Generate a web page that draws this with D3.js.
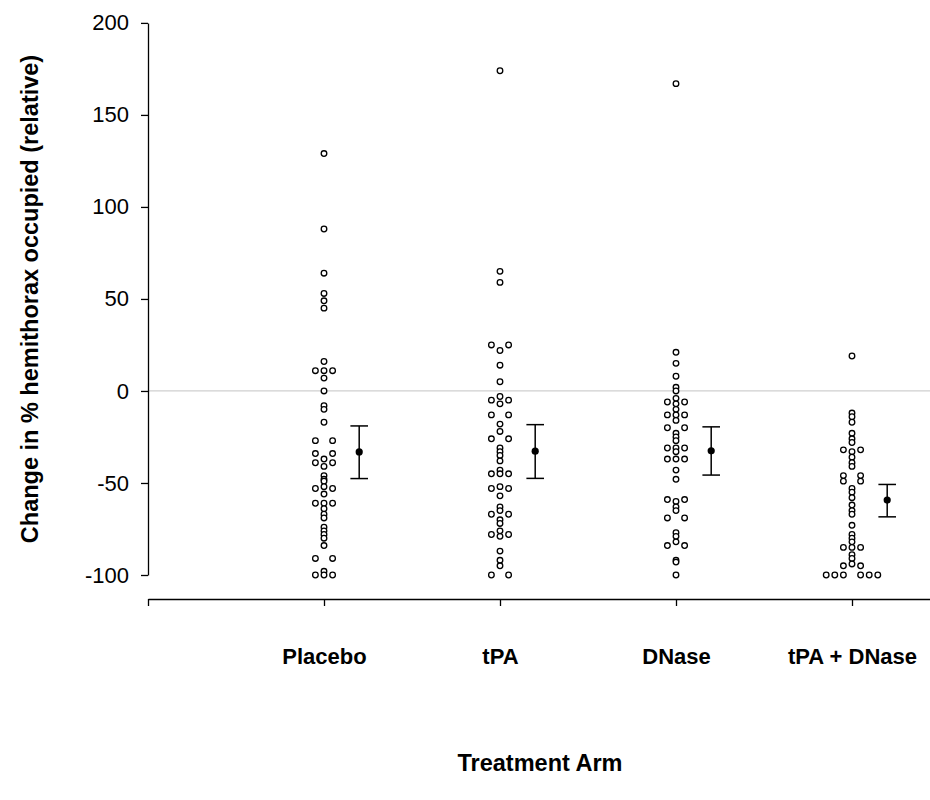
<!DOCTYPE html>
<html><head><meta charset="utf-8">
<script src="https://cdn.jsdelivr.net/npm/d3@7"></script>
<style>body{margin:0;background:#fff}svg{display:block}</style></head>
<body><svg id="chart" width="930" height="800"></svg>
<script>
const categories = ["Placebo", "tPA", "DNase", "tPA + DNase"];
const placebo = [129, 88, 64, 53, 49, 45, 16, 11, 11, 11, 7, 0, -8, -10, -17, -27, -27, -34, -34, -37, -39, -39, -41, -46, -48, -49, -52, -53, -53, -56, -61, -61, -61, -64, -67, -69, -74, -76, -78, -80, -84, -91, -91, -98, -100, -100, -100];
const tpa = [174, 65, 59, 25, 25, 22, 14, 5, -3, -5, -5, -7, -13, -13, -18, -22, -26, -26, -31, -33, -35, -38, -43, -45, -45, -45, -52, -53, -53, -57, -63, -65, -67, -67, -70, -72, -76, -78, -78, -79, -87, -92, -95, -100, -100];
const dnase = [167, 21, 15, 8, 2, 0, -4, -6, -6, -7, -10, -13, -13, -13, -16, -20, -20, -23, -25, -27, -31, -31, -31, -33, -37, -37, -37, -43, -48, -59, -59, -60, -63, -65, -69, -69, -77, -79, -82, -84, -84, -92, -93, -100];
const tpaDnase = [19, -12, -14, -17, -23, -26, -28, -32, -32, -33, -36, -39, -41, -46, -46, -49, -49, -53, -55, -58, -62, -65, -67, -73, -78, -80, -82, -85, -85, -85, -89, -91, -94, -95, -95, -100, -100, -100, -100, -100, -100];
const means = [-33.1, -32.7, -32.5, -59.3];
const ciUpper = [-19.0, -18.3, -19.5, -50.8];
const ciLower = [-47.6, -47.5, -45.7, -68.4];
const yTicks = [-100, -50, 0, 50, 100, 150, 200];
const yTitle = "Change in % hemithorax occupied (relative)";
const xTitle = "Treatment Arm";

const groups = [placebo, tpa, dnase, tpaDnase];
const FONT = "'Liberation Sans', Arial, Helvetica, sans-serif";

const svg = d3.select("#chart");
const x = d3.scaleLinear().domain([0, 4.4432]).range([148, 930]);
const y = d3.scaleLinear().domain([-100, 200]).range([575, 22.9]);
const colStep = 8.6;   // px between side-by-side columns
const meanShift = 0.2; // category units to the right of the dots

// zero reference line
svg.append("line")
  .attr("x1", x(0)).attr("x2", x.range()[1])
  .attr("y1", y(0)).attr("y2", y(0))
  .attr("stroke", "#cfcfcf").attr("stroke-width", 1.2);

// Y axis
const yAxis = svg.append("g").attr("transform", `translate(${x(0)},0)`)
  .call(d3.axisLeft(y).tickValues(yTicks).tickSize(7).tickSizeOuter(0).tickPadding(12).tickFormat(d => String(d)));
yAxis.select(".domain").attr("stroke", "#000").attr("stroke-width", 1.3);
yAxis.selectAll(".tick line").attr("stroke", "#000").attr("stroke-width", 1.3);
yAxis.selectAll(".tick text").attr("font-family", FONT).attr("font-size", 22).attr("fill", "#000");

// X axis
const xAxis = svg.append("g").attr("transform", "translate(0,599)")
  .call(d3.axisBottom(x).tickValues([0, 1, 2, 3, 4]).tickSize(7).tickSizeOuter(0)
    .tickFormat(d => d === 0 ? "" : categories[d - 1]));
xAxis.select(".domain").attr("stroke", "#000").attr("stroke-width", 1.3);
xAxis.selectAll(".tick line").attr("stroke", "#000").attr("stroke-width", 1.3);
xAxis.selectAll(".tick text").attr("font-family", FONT).attr("font-size", 22)
  .attr("font-weight", "bold").attr("fill", "#000").attr("y", 65).attr("dy", 0);

// Dots with symmetric column offsets for tied values
groups.forEach((vals, gi) => {
  const counts = d3.rollup(vals, v => v.length, d => d);
  const seen = new Map();
  const pts = vals.map(v => {
    const n = counts.get(v);
    const k = seen.get(v) || 0;
    seen.set(v, k + 1);
    let off;
    if (n % 2 === 1) off = k === 0 ? 0 : (k % 2 === 1 ? -1 : 1) * Math.ceil(k / 2);
    else off = (k % 2 === 0 ? -1 : 1) * (Math.floor(k / 2) + 1);
    return { v, off };
  });
  svg.append("g").selectAll("circle").data(pts).join("circle")
    .attr("cx", d => x(gi + 1) + d.off * colStep)
    .attr("cy", d => y(d.v))
    .attr("r", 2.8)
    .attr("fill", "#fff").attr("stroke", "#000").attr("stroke-width", 1.3);
});

// Mean and CI
const cap = 8.8;
const mg = svg.append("g");
means.forEach((m, i) => {
  const cx = x(i + 1 + meanShift);
  mg.append("line").attr("x1", cx).attr("x2", cx).attr("y1", y(ciUpper[i])).attr("y2", y(ciLower[i]))
    .attr("stroke", "#000").attr("stroke-width", 1.5);
  mg.append("line").attr("x1", cx - cap).attr("x2", cx + cap).attr("y1", y(ciUpper[i])).attr("y2", y(ciUpper[i]))
    .attr("stroke", "#000").attr("stroke-width", 1.5);
  mg.append("line").attr("x1", cx - cap).attr("x2", cx + cap).attr("y1", y(ciLower[i])).attr("y2", y(ciLower[i]))
    .attr("stroke", "#000").attr("stroke-width", 1.5);
  mg.append("circle").attr("cx", cx).attr("cy", y(m)).attr("r", 3.6).attr("fill", "#000");
});

// Titles
svg.append("text")
  .attr("transform", `translate(38,299) rotate(-90)`)
  .attr("text-anchor", "middle").attr("font-family", FONT).attr("font-size", 23.5)
  .attr("font-weight", "bold").attr("fill", "#000").text(yTitle);
svg.append("text")
  .attr("x", 540).attr("y", 771)
  .attr("text-anchor", "middle").attr("font-family", FONT).attr("font-size", 23.5)
  .attr("font-weight", "bold").attr("fill", "#000").text(xTitle);
</script>
</body></html>
